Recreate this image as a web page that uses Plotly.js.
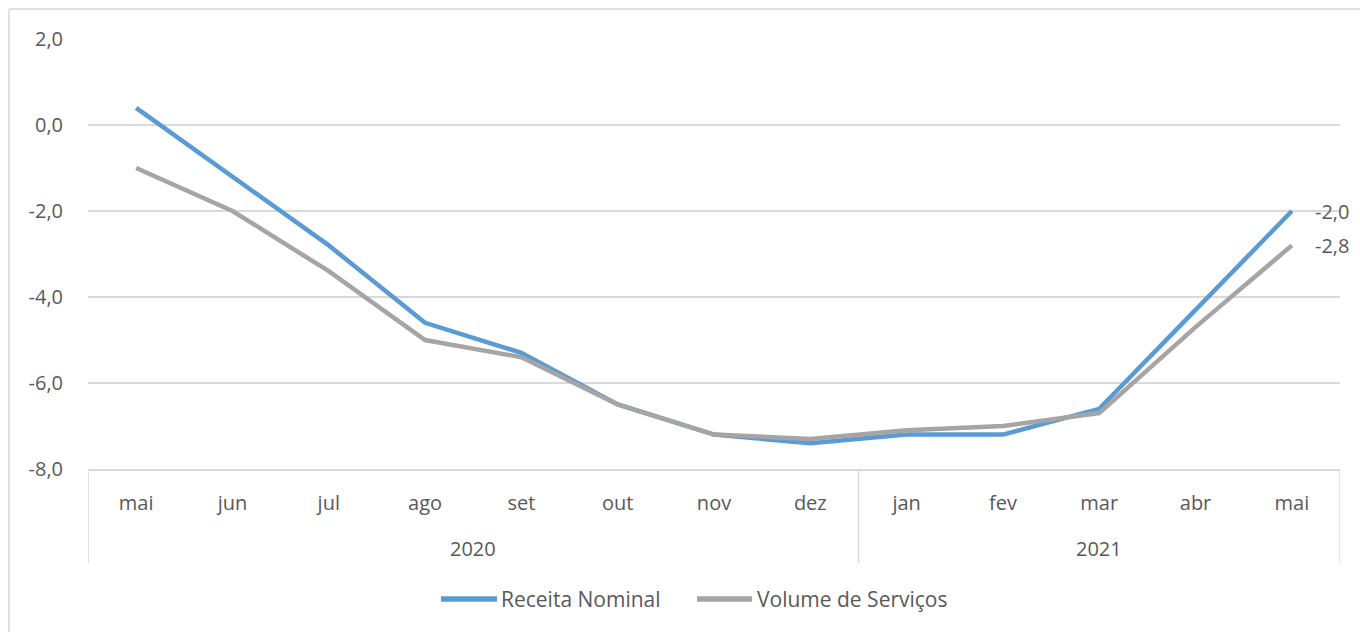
<!DOCTYPE html>
<html>
<head>
<meta charset="utf-8">
<script src="https://cdn.plot.ly/plotly-3.0.1.min.js"></script>
<style>
  html, body { margin: 0; padding: 0; background: #ffffff; }
  #chart { width: 1360px; height: 632px; }
</style>
</head>
<body>
<div id="chart"></div>
<script>
// ---- data ----
const months = ["mai", "jun", "jul", "ago", "set", "out", "nov", "dez", "jan", "fev", "mar", "abr", "mai"];
const years = ["2020", "2021"];
const yearSpans = [[0, 7], [8, 12]];   // month index range covered by each year
const yTicks = [2, 0, -2, -4, -6, -8];
const receitaNominal = [0.4, -1.2, -2.8, -4.6, -5.3, -6.5, -7.2, -7.4, -7.2, -7.2, -6.6, -4.3, -2.0];
const volumeServicos = [-1.0, -2.0, -3.4, -5.0, -5.4, -6.5, -7.2, -7.3, -7.1, -7.0, -6.7, -4.7, -2.8];
const seriesNames = ["Receita Nominal", "Volume de Serviços"];

// ---- style ----
const FONT = "Open Sans, Liberation Sans, Arial, sans-serif";
const FS = 20;
const FS_LEG = 21;
const TXT = "#595959";
const GRID = "#d9d9d9";
const colors = ["#5b9bd5", "#a5a5a5"];

const xIdx = months.map((_, i) => i);
const fmt = v => v.toFixed(1).replace(".", ",");

const traces = [receitaNominal, volumeServicos].map((vals, k) => ({
  type: "scatter",
  mode: "lines",
  x: xIdx,
  y: vals,
  name: seriesNames[k],
  line: { color: colors[k], width: 4.5 },
  hoverinfo: "skip",
  showlegend: false
}));

const annotations = [];
// end-of-line data labels
[receitaNominal, volumeServicos].forEach((vals, k) => {
  const last = vals.length - 1;
  annotations.push({
    x: xIdx[last], y: vals[last], xref: "x", yref: "y",
    text: fmt(vals[last]), showarrow: false,
    xanchor: "left", yanchor: "middle", xshift: 21,
    font: { family: FONT, size: FS, color: TXT }
  });
});
// year labels
years.forEach((yr, j) => {
  annotations.push({
    x: (yearSpans[j][0] + yearSpans[j][1]) / 2, y: -0.184,
    xref: "x", yref: "paper", text: yr, showarrow: false,
    xanchor: "center", yanchor: "middle",
    font: { family: FONT, size: FS, color: TXT }
  });
});

const shapes = [];
const bottomY = -0.2186;
// vertical separators of the category axis
const seps = [-0.5].concat(yearSpans.map(s => s[1] + 0.5));
seps.forEach(xv => {
  shapes.push({ type: "line", xref: "x", yref: "paper", x0: xv, x1: xv, y0: 0, y1: bottomY,
    line: { color: GRID, width: 1.5 } });
});
// outer chart border (left and top)
shapes.push({ type: "line", xref: "paper", yref: "paper", x0: -0.0631, x1: -0.0631, y0: 1.0698, y1: -0.4,
  line: { color: GRID, width: 1.5 } });
shapes.push({ type: "line", xref: "paper", yref: "paper", x0: -0.0631, x1: 1.1, y0: 1.0698, y1: 1.0698,
  line: { color: GRID, width: 1.5 } });

// manual legend (sample line + label), positions in paper coordinates
const legY = -0.3023;
const legPos = [
  { l0: 0.2819, l1: 0.3267, t: 0.3283 },
  { l0: 0.4864, l1: 0.5304, t: 0.5327 }
];
seriesNames.forEach((nm, k) => {
  shapes.push({ type: "line", xref: "paper", yref: "paper",
    x0: legPos[k].l0, x1: legPos[k].l1, y0: legY, y1: legY,
    line: { color: colors[k], width: 5.5 } });
  annotations.push({ xref: "paper", yref: "paper", x: legPos[k].t, y: legY,
    text: nm, showarrow: false, xanchor: "left", yanchor: "middle",
    font: { family: FONT, size: FS_LEG, color: TXT } });
});

const layout = {
  width: 1360, height: 632,
  margin: { l: 88, r: 20, t: 39, b: 163 },
  paper_bgcolor: "#ffffff",
  plot_bgcolor: "#ffffff",
  separators: ",.",
  font: { family: FONT, size: FS, color: TXT },
  showlegend: false,
  xaxis: {
    range: [-0.5, 12.5],
    tickmode: "array", tickvals: xIdx, ticktext: months,
    showgrid: false, zeroline: false,
    showline: true, linecolor: GRID, linewidth: 1.5,
    ticks: "", ticklabelstandoff: 15,
    tickfont: { family: FONT, size: FS, color: TXT },
    fixedrange: true
  },
  yaxis: {
    range: [-8, 2],
    tickmode: "array", tickvals: yTicks, ticktext: yTicks.map(fmt),
    showgrid: true, gridcolor: GRID, gridwidth: 1.5,
    zeroline: false, showline: false, ticks: "",
    ticklabelstandoff: 24,
    tickfont: { family: FONT, size: FS, color: TXT },
    fixedrange: true
  },
  shapes: shapes,
  annotations: annotations
};

Plotly.newPlot("chart", traces, layout, { displayModeBar: false, staticPlot: true });
</script>
</body>
</html>
